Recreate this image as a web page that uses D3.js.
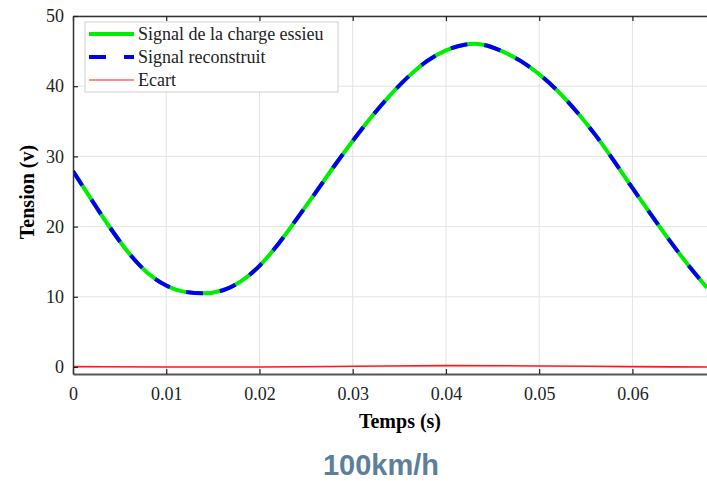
<!DOCTYPE html>
<html>
<head>
<meta charset="utf-8">
<script src="https://cdn.jsdelivr.net/npm/d3@7"></script>
<style>
  body { margin: 0; background: #fff; }
  svg { display: block; }
</style>
</head>
<body>
<div id="my_dataviz"></div>
<script>
// data
var temps = [0, 0.002, 0.004, 0.006, 0.008, 0.010, 0.012, 0.014, 0.016, 0.018, 0.020, 0.022, 0.024, 0.026,
  0.028, 0.030, 0.032, 0.034, 0.036, 0.038, 0.040, 0.042, 0.043, 0.044, 0.046, 0.048, 0.050, 0.052, 0.054,
  0.056, 0.058, 0.060, 0.062, 0.064, 0.066, 0.068];
var chargeEssieu = [27.9, 23.8, 19.8, 16.2, 13.4, 11.6, 10.7, 10.5, 10.9, 12.2, 14.4, 17.5, 21.1, 24.8,
  28.6, 32.2, 35.6, 38.7, 41.4, 43.6, 45.1, 45.9, 46.05, 45.9, 45.0, 43.6, 41.7, 39.3, 36.4,
  33.1, 29.4, 25.5, 21.7, 18.0, 14.5, 11.3];
var reconstruit = [27.9, 23.8, 19.8, 16.2, 13.4, 11.6, 10.7, 10.5, 10.9, 12.2, 14.4, 17.5, 21.1, 24.8,
  28.6, 32.2, 35.6, 38.7, 41.4, 43.6, 45.1, 45.9, 46.05, 45.9, 45.0, 43.6, 41.7, 39.3, 36.4,
  33.1, 29.4, 25.5, 21.7, 18.0, 14.5, 11.3];
var ecartTemps = [0, 0.01, 0.02, 0.03, 0.04, 0.05, 0.06, 0.068];
var ecart = [0.05, 0.0, 0.0, 0.1, 0.2, 0.15, 0.05, 0.0];

var xTicks = [0, 0.01, 0.02, 0.03, 0.04, 0.05, 0.06];
var yTicks = [0, 10, 20, 30, 40, 50];
var legendLabels = ["Signal de la charge essieu", "Signal reconstruit", "Ecart"];

// set the dimensions and margins of the graph
var W = 707, H = 481;
var margin = {top: 16, right: 0, bottom: 107, left: 73},
    width = W - margin.left - margin.right,
    height = H - margin.top - margin.bottom;

var svg = d3.select("#my_dataviz")
  .append("svg")
    .attr("width", W)
    .attr("height", H);

var g = svg.append("g")
    .attr("transform", "translate(" + margin.left + "," + margin.top + ")");

var x = d3.scaleLinear().domain([0, 0.068]).range([0, width]);
var y = d3.scaleLinear().domain([-1, 50]).range([height, 0]);

var serif = "'Liberation Serif', 'Times New Roman', serif";

// grid
g.selectAll(".vgrid").data(xTicks.slice(1))
  .enter().append("line")
    .attr("x1", function(d) { return x(d); }).attr("x2", function(d) { return x(d); })
    .attr("y1", 0).attr("y2", height)
    .attr("stroke", "#e3e3e3").attr("stroke-width", 1);
g.selectAll(".hgrid").data(yTicks)
  .enter().append("line")
    .attr("x1", 0).attr("x2", width)
    .attr("y1", function(d) { return y(d); }).attr("y2", function(d) { return y(d); })
    .attr("stroke", "#e3e3e3").attr("stroke-width", 1);

// clip
svg.append("defs").append("clipPath").attr("id", "clip")
  .append("rect").attr("x", 0).attr("y", 0).attr("width", width).attr("height", height);

var line = d3.line().curve(d3.curveMonotoneX);
var plot = g.append("g").attr("clip-path", "url(#clip)");

plot.append("path")
  .attr("d", line(temps.map(function(t, i) { return [x(t), y(chargeEssieu[i])]; })))
  .attr("fill", "none").attr("stroke", "#00ee00").attr("stroke-width", 4);
plot.append("path")
  .attr("d", line(temps.map(function(t, i) { return [x(t), y(reconstruit[i])]; })))
  .attr("fill", "none").attr("stroke", "#0000ee").attr("stroke-width", 4)
  .attr("stroke-dasharray", "17,17");
plot.append("path")
  .attr("d", line(ecartTemps.map(function(t, i) { return [x(t), y(ecart[i])]; })))
  .attr("fill", "none").attr("stroke", "#ff1a1a").attr("stroke-width", 1.6);

// axes (MATLAB style: ticks inside)
var xAxis = g.append("g")
  .attr("transform", "translate(0," + height + ")")
  .call(d3.axisBottom(x).tickValues(xTicks).tickFormat(d3.format("")).tickSizeInner(-5).tickSizeOuter(0).tickPadding(13));
var xTop = g.append("g")
  .call(d3.axisTop(x).tickValues(xTicks).tickFormat("").tickSizeInner(-5).tickSizeOuter(0));
var yAxis = g.append("g")
  .call(d3.axisLeft(y).tickValues(yTicks).tickSizeInner(-5).tickSizeOuter(0).tickPadding(9));

[xAxis, xTop, yAxis].forEach(function(a) {
  a.select(".domain").attr("stroke", "#333").attr("stroke-width", 1.5);
  a.selectAll(".tick line").attr("stroke", "#222").attr("stroke-width", 1.2);
  a.selectAll("text").style("font-family", serif).style("font-size", "18px").attr("fill", "#222");
});
xAxis.select(".domain").attr("stroke", "#555").attr("stroke-width", 2.2);

// axis titles
svg.append("text")
  .attr("x", 400).attr("y", 428)
  .attr("text-anchor", "middle")
  .style("font-family", serif).style("font-weight", "bold").style("font-size", "20px")
  .text("Temps (s)");
svg.append("text")
  .attr("transform", "translate(34,192) rotate(-90)")
  .attr("text-anchor", "middle")
  .style("font-family", serif).style("font-weight", "bold").style("font-size", "20px")
  .text("Tension (v)");

// legend
var lg = svg.append("g").attr("transform", "translate(85,22)");
lg.append("rect").attr("width", 253).attr("height", 70)
  .attr("fill", "#fff").attr("stroke", "#d0d0d0").attr("stroke-width", 1);
var legStyles = [
  {stroke: "#00ee00", w: 4, dash: null},
  {stroke: "#0000ee", w: 4, dash: "17,18"},
  {stroke: "#ff1a1a", w: 1.2, dash: null}
];
legendLabels.forEach(function(lab, i) {
  var yy = 12 + i * 23;
  lg.append("line").attr("x1", 4).attr("x2", 49).attr("y1", yy).attr("y2", yy)
    .attr("stroke", legStyles[i].stroke).attr("stroke-width", legStyles[i].w)
    .attr("stroke-dasharray", legStyles[i].dash);
  lg.append("text").attr("x", 53).attr("y", yy + 6)
    .style("font-family", serif).style("font-size", "18px").attr("fill", "#222")
    .text(lab);
});

// caption
svg.append("text")
  .attr("x", 381).attr("y", 475)
  .attr("text-anchor", "middle")
  .style("font-family", "'Liberation Sans', Arial, sans-serif").style("font-weight", "bold").style("font-size", "29px")
  .attr("fill", "#5e7f98")
  .text("100km/h");
</script>
</body>
</html>
